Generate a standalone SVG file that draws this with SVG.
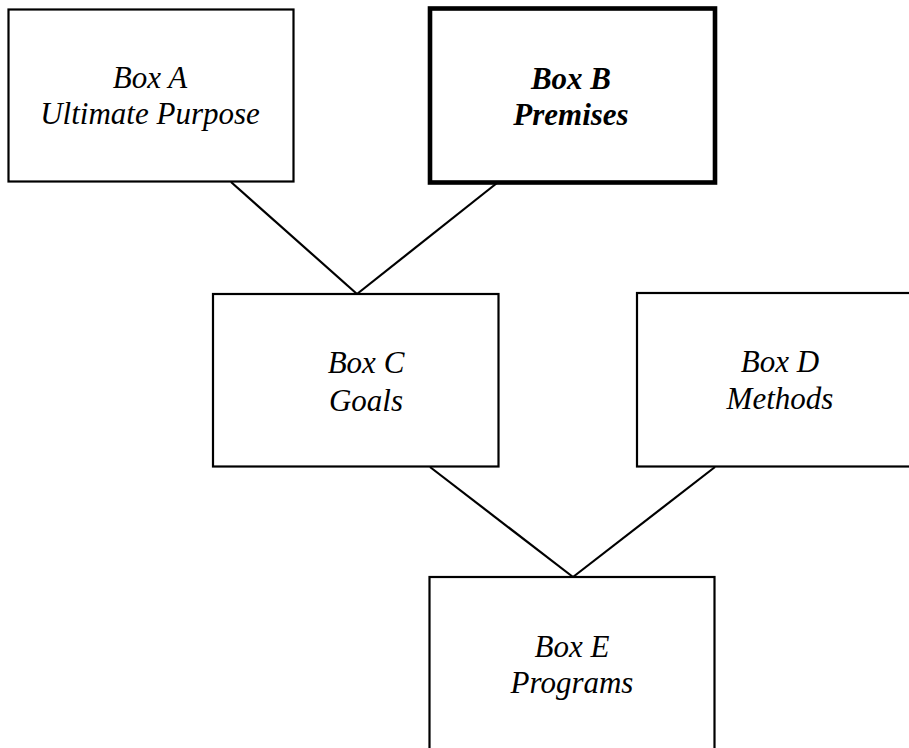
<svg xmlns="http://www.w3.org/2000/svg" width="909" height="748" viewBox="0 0 909 748">
  <style>
    .box { fill: #ffffff; stroke: #000000; stroke-width: 2.2; }
    .box.strong { stroke-width: 4.6; }
    .label { font-family: "Liberation Serif", "Times New Roman", serif; font-style: italic; font-size: 31px; fill: #000000; text-anchor: middle; }
    .label.strong { font-weight: bold; }
    .link { stroke: #000000; stroke-width: 2.2; fill: none; }
  </style>
  <rect x="0" y="0" width="909" height="748" fill="#ffffff"/>

  <g id="connectors">
    <line class="link" x1="231" y1="182" x2="357" y2="294"/>
    <line class="link" x1="497" y1="183" x2="357" y2="294"/>
    <line class="link" x1="430" y1="467" x2="573" y2="577"/>
    <line class="link" x1="715" y1="467" x2="573" y2="577"/>
  </g>

  <g id="box-a">
    <rect class="box" x="8.5" y="9.5" width="285" height="172"/>
    <text class="label" x="150" y="88">Box A</text>
    <text class="label" x="150" y="124">Ultimate Purpose</text>
  </g>

  <g id="box-b">
    <rect class="box strong" x="430" y="8.5" width="285" height="174"/>
    <text class="label strong" x="571" y="89">Box B</text>
    <text class="label strong" x="571" y="125">Premises</text>
  </g>

  <g id="box-c">
    <rect class="box" x="213" y="294" width="285.5" height="172.5"/>
    <text class="label" x="366" y="373">Box C</text>
    <text class="label" x="366" y="411">Goals</text>
  </g>

  <g id="box-d">
    <rect class="box" x="637" y="293" width="286" height="173.5"/>
    <text class="label" x="780" y="372">Box D</text>
    <text class="label" x="780" y="409">Methods</text>
  </g>

  <g id="box-e">
    <rect class="box" x="429.5" y="577" width="285" height="190"/>
    <text class="label" x="572" y="657">Box E</text>
    <text class="label" x="572" y="693">Programs</text>
  </g>
</svg>
